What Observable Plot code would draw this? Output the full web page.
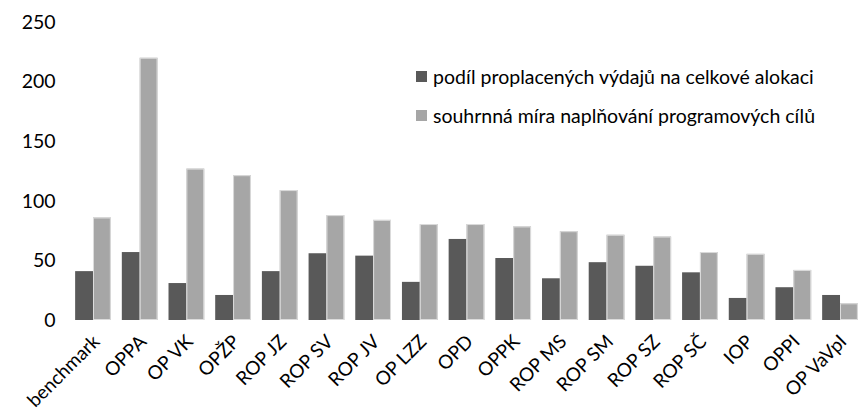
<!DOCTYPE html>
<html>
<head>
<meta charset="utf-8">
<script src="https://cdn.jsdelivr.net/npm/d3@7"></script>
<script src="https://cdn.jsdelivr.net/npm/@observablehq/plot@0.6"></script>
<style>
  html, body { margin: 0; padding: 0; background: #fff; }
  #wrap { position: relative; width: 863px; height: 415px; font-family: Lato, "Open Sans", sans-serif; }
  #legend { position: absolute; left: 416px; top: 62px; font-size: 19.5px; color: #000; }
  #legend .row { display: flex; align-items: center; height: 29px; margin-bottom: 10px; white-space: nowrap; }
  #legend .sw { width: 11px; height: 11px; margin-right: 6px; flex: none; }
</style>
</head>
<body>
<div id="wrap"></div>
<script>
const categories = ["benchmark", "OPPA", "OP VK", "OPŽP", "ROP JZ", "ROP SV", "ROP JV", "OP LZZ", "OPD", "OPPK", "ROP MS", "ROP SM", "ROP SZ", "ROP SČ", "IOP", "OPPI", "OP VaVpI"];
const seriesNames = ["podíl proplacených výdajů na celkové alokaci", "souhrnná míra naplňování programových cílů"];
const paidShare = [41, 57, 31, 21, 41, 56, 54, 32, 68, 52, 35, 48.5, 45.5, 40, 18.5, 27.5, 21];
const goalFulfilment = [86, 220, 127, 121.5, 109, 88, 84, 80.5, 80.5, 78.5, 74.5, 71.5, 70, 57, 55.5, 42, 14];
const yTicks = [0, 50, 100, 150, 200, 250];
const colors = ["#595959", "#a6a6a6"];

const data = [];
categories.forEach((c, i) => {
  data.push({category: c, series: seriesNames[0], value: paidShare[i]});
  data.push({category: c, series: seriesNames[1], value: goalFulfilment[i]});
});

const chart = Plot.plot({
  width: 863,
  height: 415,
  marginTop: 22,
  marginBottom: 95,
  marginLeft: 70,
  marginRight: 0,
  style: {fontFamily: "Lato, 'Open Sans', sans-serif", fontSize: "19.5px", color: "#000", background: "#fff"},
  fx: {domain: categories, paddingInner: 0.235, paddingOuter: 0.11, round: false, label: null},
  x: {domain: seriesNames, padding: 0, round: false, axis: null},
  y: {domain: [0, 250], ticks: yTicks, label: null},
  color: {domain: seriesNames, range: colors},
  marks: [
    Plot.barY(data, {fx: "category", x: "series", y: "value", fill: "series", inset: 0}),
    Plot.barY(data.filter(d => d.series === seriesNames[1]), {fx: "category", x: "series", y: "value", fill: "none", stroke: "#dcdcdc", strokeWidth: 1, inset: 0.5}),
    Plot.axisY({ticks: yTicks, tickSize: 0, tickPadding: 20, label: null, fontSize: 19.5}),
    Plot.axisFx({anchor: "bottom", tickSize: 0, tickPadding: 18, tickRotate: -45, label: null, fontSize: 19, dx: 3})
  ]
});

document.getElementById("wrap").appendChild(chart);

const legend = document.createElement("div");
legend.id = "legend";
seriesNames.forEach((s, i) => {
  const row = document.createElement("div");
  row.className = "row";
  const sw = document.createElement("span");
  sw.className = "sw";
  sw.style.background = colors[i];
  const t = document.createElement("span");
  t.textContent = s;
  row.appendChild(sw);
  row.appendChild(t);
  legend.appendChild(row);
});
document.getElementById("wrap").appendChild(legend);
</script>
</body>
</html>
